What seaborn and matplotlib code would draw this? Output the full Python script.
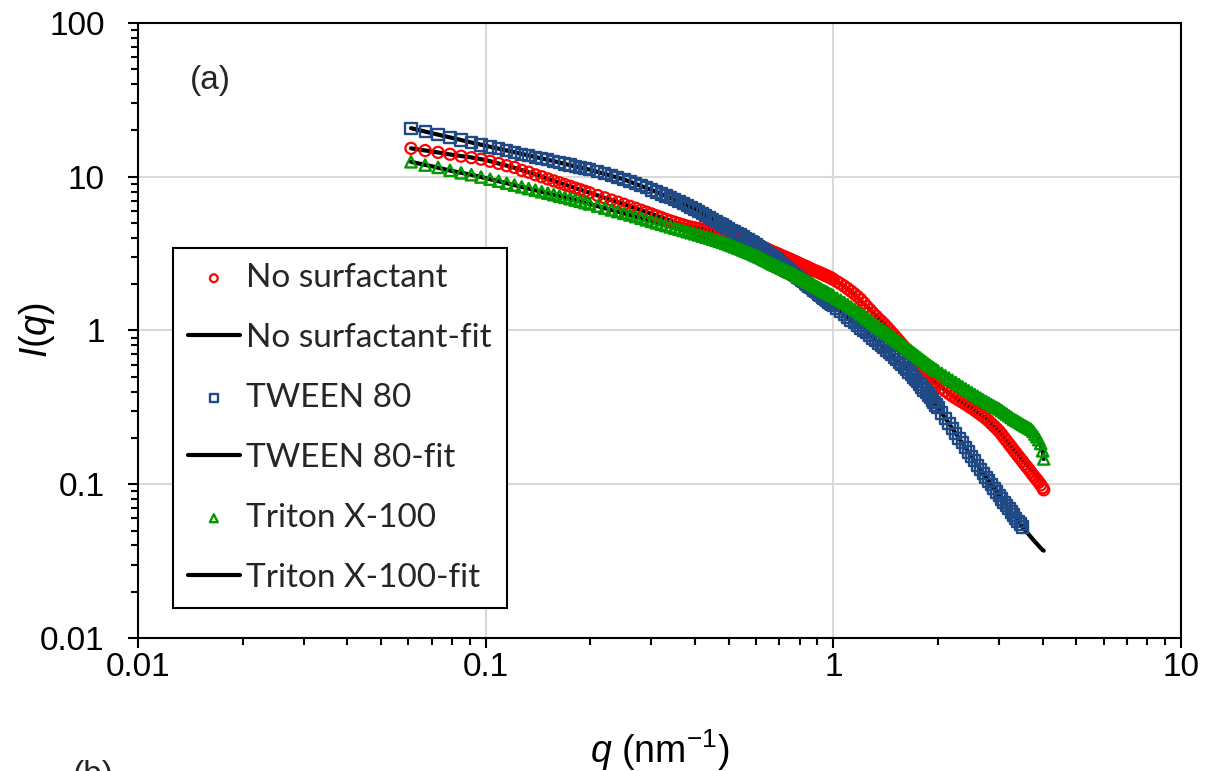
import matplotlib
matplotlib.use("Agg")
import matplotlib.pyplot as plt
from matplotlib.ticker import NullFormatter
import seaborn as sns

# =============================================================================
# data
# =============================================================================
q_data = [0.061, 0.067, 0.073, 0.079, 0.085, 0.091, 0.097, 0.103, 0.109, 0.115,
          0.121, 0.127, 0.133, 0.139, 0.145, 0.151, 0.157, 0.163, 0.169, 0.175,
          0.181, 0.187, 0.193, 0.199,
          0.21, 0.22, 0.23, 0.24, 0.25, 0.26, 0.27, 0.28, 0.29, 0.30,
          0.31, 0.32, 0.33, 0.34, 0.35, 0.36, 0.37, 0.38, 0.39, 0.40,
          0.41, 0.42, 0.43, 0.44, 0.45, 0.46, 0.47, 0.48, 0.49, 0.50,
          0.51, 0.52, 0.53, 0.54, 0.55, 0.56, 0.57, 0.58, 0.59, 0.60,
          0.61, 0.62, 0.63, 0.64, 0.65, 0.66, 0.67, 0.68, 0.69, 0.70,
          0.71, 0.72, 0.73, 0.74, 0.75, 0.76, 0.77, 0.78, 0.79, 0.80,
          0.81, 0.82, 0.83, 0.84, 0.85, 0.86, 0.87, 0.88, 0.89, 0.90,
          0.91, 0.92, 0.93, 0.94, 0.95, 0.96, 0.97, 0.98, 0.99, 1.00,
          1.025, 1.05, 1.075, 1.10, 1.125, 1.15, 1.175, 1.20, 1.225, 1.25,
          1.275, 1.30, 1.325, 1.35, 1.375, 1.40, 1.425, 1.45, 1.475, 1.50,
          1.525, 1.55, 1.575, 1.60, 1.625, 1.65, 1.675, 1.70, 1.725, 1.75,
          1.775, 1.80, 1.825, 1.85, 1.875, 1.90, 1.925, 1.95, 1.975, 2.00,
          2.05, 2.10, 2.15, 2.20, 2.25, 2.30, 2.35, 2.40, 2.45, 2.50,
          2.55, 2.60, 2.65, 2.70, 2.75, 2.80, 2.85, 2.90, 2.95, 3.00,
          3.05, 3.10, 3.15, 3.20, 3.25, 3.30, 3.35, 3.40, 3.45, 3.50,
          3.55, 3.60, 3.65, 3.70, 3.75, 3.80, 3.85, 3.90, 3.95, 4.00, 4.03]

no_surf = [15.3, 14.8, 14.4, 14.0, 13.6, 13.3, 13.0, 12.6, 12.2, 11.8,
           11.5, 11.0, 10.7, 10.3, 10.0, 9.68, 9.40, 9.14, 8.89, 8.67,
           8.44, 8.24, 8.04, 7.87,
           7.55, 7.29, 7.05, 6.84, 6.62, 6.42, 6.24, 6.06, 5.89, 5.73,
           5.57, 5.43, 5.28, 5.16, 5.06, 4.95, 4.86, 4.77, 4.70, 4.65,
           4.60, 4.56, 4.52, 4.49, 4.46, 4.43, 4.40, 4.36, 4.31, 4.26,
           4.21, 4.15, 4.09, 4.03, 3.96, 3.90, 3.84, 3.78, 3.71, 3.65,
           3.59, 3.53, 3.47, 3.41, 3.35, 3.30, 3.25, 3.21, 3.16, 3.12,
           3.07, 3.03, 2.99, 2.95, 2.91, 2.87, 2.83, 2.80, 2.76, 2.72,
           2.68, 2.65, 2.62, 2.59, 2.55, 2.52, 2.49, 2.46, 2.43, 2.41,
           2.38, 2.36, 2.33, 2.31, 2.28, 2.26, 2.23, 2.21, 2.18, 2.15,
           2.08, 2.01, 1.94, 1.87, 1.80, 1.73, 1.66, 1.59, 1.51, 1.43,
           1.365, 1.30, 1.245, 1.19, 1.145, 1.10, 1.053, 1.008, 0.965, 0.924,
           0.885, 0.848, 0.814, 0.781, 0.750, 0.721, 0.694, 0.667, 0.642, 0.618,
           0.596, 0.575, 0.555, 0.536, 0.518, 0.501, 0.485, 0.470, 0.457, 0.444,
           0.423, 0.404, 0.389, 0.375, 0.363, 0.352, 0.342, 0.332, 0.322, 0.313,
           0.303, 0.294, 0.285, 0.276, 0.267, 0.258, 0.248, 0.239, 0.230, 0.221,
           0.211, 0.201, 0.192, 0.183, 0.175, 0.167, 0.160, 0.153, 0.147, 0.141,
           0.135, 0.130, 0.125, 0.120, 0.115, 0.111, 0.107, 0.103, 0.099, 0.095, 0.092]

tween80 = [20.7, 19.7, 18.8, 18.0, 17.3, 16.7, 16.1, 15.6, 15.2, 14.8,
           14.4, 14.0, 13.7, 13.4, 13.1, 12.9, 12.6, 12.4, 12.1, 11.9,
           11.7, 11.5, 11.3, 11.1,
           10.8, 10.5, 10.2, 9.86, 9.60, 9.29, 9.03, 8.75, 8.49, 8.20,
           7.96, 7.73, 7.48, 7.29, 7.08, 6.88, 6.68, 6.49, 6.32, 6.15,
           5.96, 5.78, 5.61, 5.44, 5.28, 5.13, 4.99, 4.85, 4.72, 4.60,
           4.48, 4.37, 4.27, 4.17, 4.07, 3.97, 3.88, 3.80, 3.71, 3.63,
           3.53, 3.43, 3.34, 3.25, 3.16, 3.08, 3.01, 2.94, 2.87, 2.81,
           2.73, 2.66, 2.59, 2.52, 2.46, 2.40, 2.34, 2.29, 2.23, 2.18,
           2.13, 2.08, 2.04, 2.00, 1.95, 1.91, 1.87, 1.83, 1.79, 1.76,
           1.72, 1.68, 1.65, 1.62, 1.59, 1.56, 1.53, 1.50, 1.47, 1.45,
           1.39, 1.33, 1.27, 1.22, 1.17, 1.13, 1.08, 1.04, 1.00, 0.968,
           0.931, 0.895, 0.862, 0.830, 0.800, 0.772, 0.745, 0.719, 0.696, 0.673,
           0.647, 0.622, 0.599, 0.577, 0.556, 0.536, 0.517, 0.499, 0.482, 0.465,
           0.446, 0.428, 0.411, 0.395, 0.380, 0.366, 0.353, 0.340, 0.327, 0.315,
           0.291, 0.269, 0.249, 0.230, 0.214, 0.199, 0.186, 0.173, 0.162, 0.151,
           0.142, 0.133, 0.125, 0.118, 0.111, 0.105, 0.0992, 0.0938, 0.0890, 0.0845,
           0.0803, 0.0763, 0.0727, 0.0692, 0.0660, 0.0630, 0.0601, 0.0574, 0.0551, 0.0528]

triton = [12.5, 11.9, 11.5, 11.0, 10.6, 10.3, 9.95, 9.64, 9.35, 9.07,
          8.82, 8.59, 8.37, 8.17, 7.98, 7.81, 7.64, 7.48, 7.34, 7.19,
          7.05, 6.92, 6.78, 6.65,
          6.44, 6.25, 6.08, 5.93, 5.78, 5.64, 5.50, 5.37, 5.24, 5.12,
          5.01, 4.91, 4.81, 4.72, 4.63, 4.55, 4.47, 4.39, 4.32, 4.25,
          4.18, 4.11, 4.05, 3.99, 3.92, 3.86, 3.80, 3.74, 3.68, 3.62,
          3.56, 3.50, 3.44, 3.39, 3.33, 3.27, 3.22, 3.17, 3.11, 3.06,
          3.01, 2.96, 2.90, 2.85, 2.80, 2.75, 2.70, 2.66, 2.62, 2.58,
          2.54, 2.50, 2.46, 2.42, 2.39, 2.36, 2.32, 2.29, 2.25, 2.22,
          2.18, 2.15, 2.12, 2.09, 2.06, 2.03, 2.00, 1.97, 1.94, 1.92,
          1.89, 1.86, 1.83, 1.81, 1.79, 1.77, 1.74, 1.72, 1.70, 1.68,
          1.62, 1.57, 1.52, 1.47, 1.42, 1.37, 1.33, 1.285, 1.24, 1.20,
          1.16, 1.12, 1.085, 1.05, 1.02, 0.993, 0.965, 0.937, 0.911, 0.886,
          0.862, 0.839, 0.817, 0.795, 0.774, 0.753, 0.734, 0.716, 0.698, 0.681,
          0.664, 0.648, 0.633, 0.618, 0.604, 0.590, 0.578, 0.566, 0.556, 0.546,
          0.526, 0.507, 0.490, 0.474, 0.459, 0.444, 0.430, 0.417, 0.405, 0.394,
          0.383, 0.373, 0.363, 0.353, 0.345, 0.337, 0.329, 0.322, 0.315, 0.309,
          0.301, 0.293, 0.286, 0.279, 0.272, 0.265, 0.260, 0.255, 0.250, 0.245,
          0.240, 0.236, 0.232, 0.228, 0.221, 0.212, 0.204, 0.195, 0.184, 0.165, 0.146]

q_fit = [0.061, 0.07, 0.08, 0.09, 0.1, 0.12, 0.14, 0.16, 0.18, 0.2,
         0.25, 0.3, 0.35, 0.4, 0.5, 0.6, 0.7, 0.8, 0.9, 1.0,
         1.1, 1.25, 1.4, 1.55, 1.7, 1.85, 2.0, 2.25, 2.5, 2.75,
         3.0, 3.25, 3.5, 3.75, 3.9, 4.0, 4.03]

no_surf_fit = [15.3, 14.6, 13.9, 13.4, 12.85, 11.5, 10.3, 9.27, 8.48, 7.84,
               6.62, 5.73, 5.06, 4.65, 4.26, 3.65, 3.12, 2.72, 2.41, 2.15,
               1.87, 1.43, 1.10, 0.848, 0.667, 0.536, 0.444, 0.363, 0.313, 0.267,
               0.221, 0.176, 0.143, 0.122, 0.112, 0.106, 0.103]

tween80_fit = [20.7, 19.2, 17.9, 16.8, 15.9, 14.5, 13.4, 12.5, 11.7, 11.1,
               9.6, 8.2, 7.08, 6.15, 4.60, 3.63, 2.81, 2.18, 1.76, 1.45,
               1.22, 0.968, 0.772, 0.622, 0.499, 0.395, 0.315, 0.214, 0.151, 0.111,
               0.0845, 0.0660, 0.0528, 0.0438, 0.0397, 0.0373, 0.037]

triton_fit = [12.5, 11.7, 10.9, 10.35, 9.8, 8.86, 8.14, 7.56, 7.07, 6.63,
              5.78, 5.12, 4.63, 4.25, 3.62, 3.06, 2.58, 2.22, 1.92, 1.68,
              1.47, 1.20, 0.993, 0.839, 0.716, 0.618, 0.546, 0.459, 0.394, 0.345,
              0.309, 0.272, 0.245, 0.221, 0.195, 0.165, 0.146]

x_ticks = [0.01, 0.1, 1, 10]
x_tick_labels = ["0.01", "0.1", "1", "10"]
y_ticks = [0.01, 0.1, 1, 10, 100]
y_tick_labels = ["0.01", "0.1", "1", "10", "100"]

legend_order = ["No surfactant", "No surfactant-fit", "TWEEN 80", "TWEEN 80-fit",
                "Triton X-100", "Triton X-100-fit"]

# =============================================================================
# style
# =============================================================================
sns.set_theme(style="white")
plt.rcParams['font.family'] = ['Liberation Sans', 'DejaVu Sans']
plt.rcParams['mathtext.fontset'] = 'custom'
plt.rcParams['mathtext.rm'] = 'Liberation Sans'
plt.rcParams['mathtext.it'] = 'Liberation Sans:italic'

fig = plt.figure(figsize=(12.1, 7.71), dpi=100)
ax = fig.add_axes([0.114, 0.1725, 0.862, 0.7977])

# fits under the markers
for fit, lab in [(no_surf_fit, "No surfactant-fit"), (tween80_fit, "TWEEN 80-fit"),
                 (triton_fit, "Triton X-100-fit")]:
    sns.lineplot(x=q_fit, y=fit, color="black", lw=3, sort=False, estimator=None,
                 label=lab, ax=ax, zorder=2)

sns.scatterplot(x=q_data, y=no_surf, marker="o", s=64, facecolor="none",
                edgecolor="#FF0000", linewidth=1.6, label="No surfactant", ax=ax, zorder=3)
sns.scatterplot(x=q_data[:len(tween80)], y=tween80, marker="s", s=66, facecolor="none",
                edgecolor="#1F4A85", linewidth=1.7, label="TWEEN 80", ax=ax, zorder=4)
sns.scatterplot(x=q_data, y=triton, marker="^", s=66, facecolor="none",
                edgecolor="#009A00", linewidth=1.7, label="Triton X-100", ax=ax, zorder=5)

ax.set_xscale("log")
ax.set_yscale("log")
ax.set_xlim(0.01, 10)
ax.set_ylim(0.01, 100)
ax.set_xticks(x_ticks, x_tick_labels)
ax.set_yticks(y_ticks, y_tick_labels)
ax.xaxis.set_minor_formatter(NullFormatter())
ax.yaxis.set_minor_formatter(NullFormatter())

ax.tick_params(which="major", direction="out", length=7, width=1.5, color="black",
               labelsize=24, labelcolor="black", bottom=True, left=True, top=False, right=False)
ax.tick_params(which="minor", direction="out", length=5, width=1.5, color="black",
               bottom=True, left=True, top=False, right=False)
ax.tick_params(axis="x", which="major", pad=3)
ax.tick_params(axis="y", which="major", pad=17)

ax.grid(which="major", color="#d9d9d9", lw=1.5)
ax.set_axisbelow(True)
for s in ax.spines.values():
    s.set_color("black")
    s.set_linewidth(1.5)
    s.set_zorder(6)

ax.set_xlabel(r"$q$ (nm$^{-1}$)", fontsize=27, color="black")
ax.xaxis.set_label_coords(0.5, -0.146)
ax.set_ylabel(r"$I(q)$", fontsize=27, color="black")
ax.yaxis.set_label_coords(-0.078, 0.5)

ax.text(0.05, 0.906, "(a)", transform=ax.transAxes, fontsize=24, va="center", ha="left")
fig.text(0.06, 0.0143, "(b)", fontsize=24, va="top", ha="left")

handles, labels = ax.get_legend_handles_labels()
hmap = dict(zip(labels, handles))
leg = ax.legend([hmap[l] for l in legend_order], legend_order, loc="lower left",
                bbox_to_anchor=(0.0336, 0.0488), borderaxespad=0, frameon=True,
                fancybox=False, edgecolor="black", framealpha=1,
                prop={"family": "Lato", "size": 24}, markerscale=0.7,
                handlelength=1.55, handletextpad=0.2, labelspacing=0.9, borderpad=0.45)
leg.get_frame().set_linewidth(1.5)
leg.set_zorder(10)

fig.savefig("out.png", dpi=100)
